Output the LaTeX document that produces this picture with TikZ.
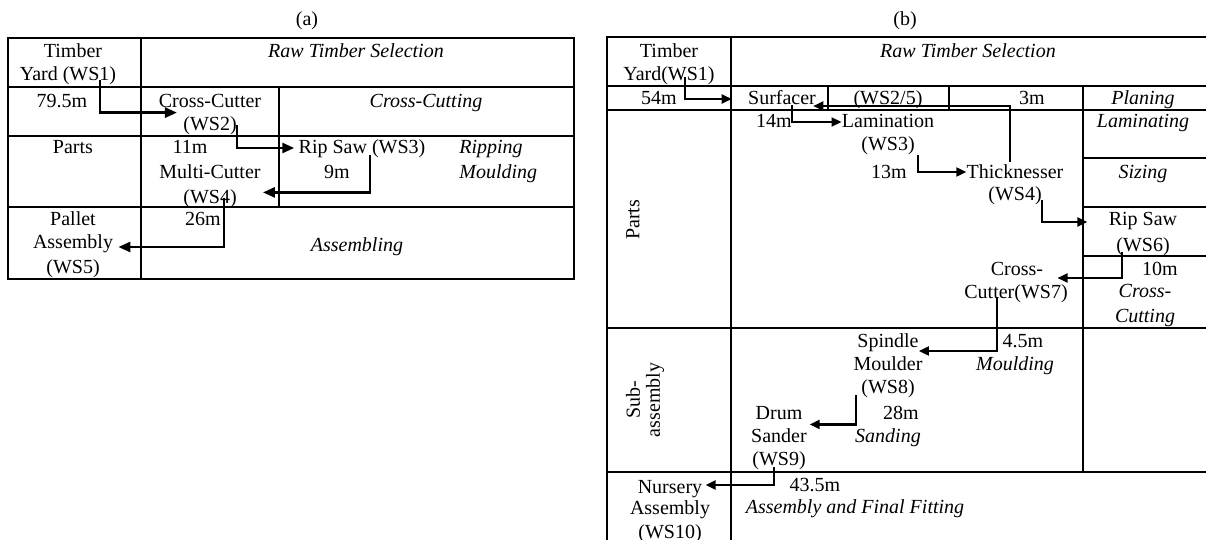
\documentclass[tikz,border=0pt]{standalone}
\usepackage{fontspec}
\setmainfont{Liberation Serif}
\usetikzlibrary{arrows.meta}

\begin{document}
\begin{tikzpicture}[x=0.5pt,y=-0.5pt,
    lbl/.style={inner sep=0pt,text height=8pt,text depth=2pt},
    it/.style={lbl,font=\itshape},
    tbl/.style={line width=1pt},
    arr/.style={-{Triangle[length=5pt,width=4.5pt]},line width=1.1pt},
    arra/.style={arr,line width=1.3pt,-{Triangle[length=6pt,width=5pt]}}]
  \useasboundingbox (0,0) rectangle (1206,540);
  % (a) table
  \draw[tbl] (8,38) rectangle (574,279);
  \draw[tbl] (141,38) -- (141,279) (279,87) -- (279,207);
  \foreach \y in {87,136,207} \draw[tbl] (8,\y) -- (574,\y);
  % (b) table, runs off the right and bottom edge
  \draw[tbl] (607,540) -- (607,37) -- (1206,37) (731,37) -- (731,540);
  \foreach \y in {86,110,328,472} \draw[tbl] (607,\y) -- (1206,\y);
  \draw[tbl] (828,86) -- (828,110) (949,86) -- (949,110) (1083,86) -- (1083,472);
  \foreach \y in {158,207,256} \draw[tbl] (1083,\y) -- (1206,\y);
  \node[lbl] (capA) at (307,20) {(a)};
  \node[lbl] (capB) at (905,20) {(b)};
  % (a) labels
  \foreach \n/\x/\y/\s in {yrdA1/73/52/Timber,yrdA/68/75/{Yard (WS1)},dA1/62/102/79.5m,
      ccA/210/102/Cross-Cutter,w2A/210/125/{(WS2)},ptA/73/148/Parts,dA2/190/148/11m,
      mcA/210/172/Multi-Cutter,w4A/210/198/{(WS4)},rsA/362/148/{Rip Saw (WS3)},dA3/337/172/9m,
      plA1/73/220/Pallet,asA/73/243/Assembly,plA3/73/267/{(WS5)},dA4/203/220/26m}
    \node[lbl] (\n) at (\x,\y) {\s};
  \foreach \n/\x/\y/\s in {rtA/356/52/{Raw Timber Selection},ctA/426/102/Cross-Cutting,
      asmA/357/245/Assembling}
    \node[it] (\n) at (\x,\y) {\s};
  \node[it,anchor=west] (ripA) at (459,148) {Ripping};
  \node[it,anchor=west] (mldA) at (459,172) {Moulding};
  % (b) labels
  \foreach \n/\x/\y/\s in {yrdB1/669/52/Timber,ywB/669/75/{Yard(WS1)},dB1/659/99/54m,
      sfB/782/99/Surfacer,dB2/1032/99/3m,dB3/774/122/14m,lmB/888/122/Lamination,
      w3B/888/145/{(WS3)},dB4/889/172/13m,thB/1015/172/Thicknesser,w4B/1015/195/{(WS4)},
      rsB/1143/220/{Rip Saw},w6B/1143/245/{(WS6)},cxB/1017/269/Cross-,ctB/1016/293/{Cutter(WS7)},
      dB5/1160/269/10m,spB/888/341/Spindle,moB/888/364/Moulder,w8B/888/387/{(WS8)},
      dB6/1023/341/4.5m,dmB/779/413/Drum,saB/779/436/Sander,w9B/779/459/{(WS9)},
      dB7/901/413/28m,nuB/670/487/Nursery,nasB/670/508/Assembly,w10B/670/532/{(WS10)},
      dB8/815/485/43.5m}
    \node[lbl] (\n) at (\x,\y) {\s};
  \node[lbl] (w25B) at (888,99) {(WS2/5)};
  \foreach \n/\x/\y/\s in {rtB/968/52/{Raw Timber Selection},plnB/1143/99/Planing,
      lamB/1143/122/Laminating,szB/1143/172/Sizing,cuB1/1145/292/Cross-,cuB2/1145/316/Cutting,
      mldB/1015/364/Moulding,sndB/888/436/Sanding,afB/855/507/{Assembly and Final Fitting}}
    \node[it] (\n) at (\x,\y) {\s};
  \node[rotate=90,inner sep=0pt] (ptB) at (633,220) {Parts};
  \node[rotate=90,align=center,inner sep=0pt,font=\fontsize{10}{10}\selectfont] (sbB) at (645,400) {Sub-\\assembly};
  % (a) flow
  \draw[arra] ([xshift=16pt,yshift=2.5pt]yrdA.south) |- ([xshift=-3pt,yshift=1pt]w2A.north west);
  \draw[arra] (w2A.east) |- ([xshift=-2pt]rsA.west);
  \draw[arra] ([xshift=4pt,yshift=1.5pt]rsA.south) |- ([xshift=1pt,yshift=-5pt]mcA.south east);
  \draw[arra] ([xshift=7pt]w4A.center) |- ([xshift=2.5pt,yshift=-2pt]asA.east);
  % (b) flow
  \draw[arr] ([xshift=8pt,yshift=4pt]ywB.south) |- ([xshift=-8pt]sfB.west);
  \draw[arr] ([xshift=-2.5pt]thB.north) |- ([xshift=-1.5pt,yshift=-3.5pt]sfB.east);
  \draw[arr] ([xshift=5pt,yshift=-3pt]sfB.center) |- (lmB.west);
  \draw[arr] ([xshift=1.5pt,yshift=-5pt]w3B.east) |- (thB.west);
  \draw[arr] ([yshift=-2.5pt]w4B.east) |- ([xshift=-10.5pt,yshift=-1pt]rsB.west);
  \draw[arr] ([xshift=-10.5pt,yshift=1.5pt]w6B.south) |- ([xshift=7pt,yshift=-4.5pt]cxB.east);
  \draw[arr] ([xshift=-9.5pt,yshift=-2pt]ctB.center) |- ([yshift=-5pt]spB.east);
  \draw[arr] ([xshift=-16pt,yshift=1pt]w8B.south) |- ([xshift=3.5pt,yshift=-0.5pt]dmB.south east);
  \draw[arr] ([xshift=-2.5pt,yshift=1pt]w9B.south) |- ([xshift=1.5pt,yshift=1pt]nuB.east);
\end{tikzpicture}
\end{document}
